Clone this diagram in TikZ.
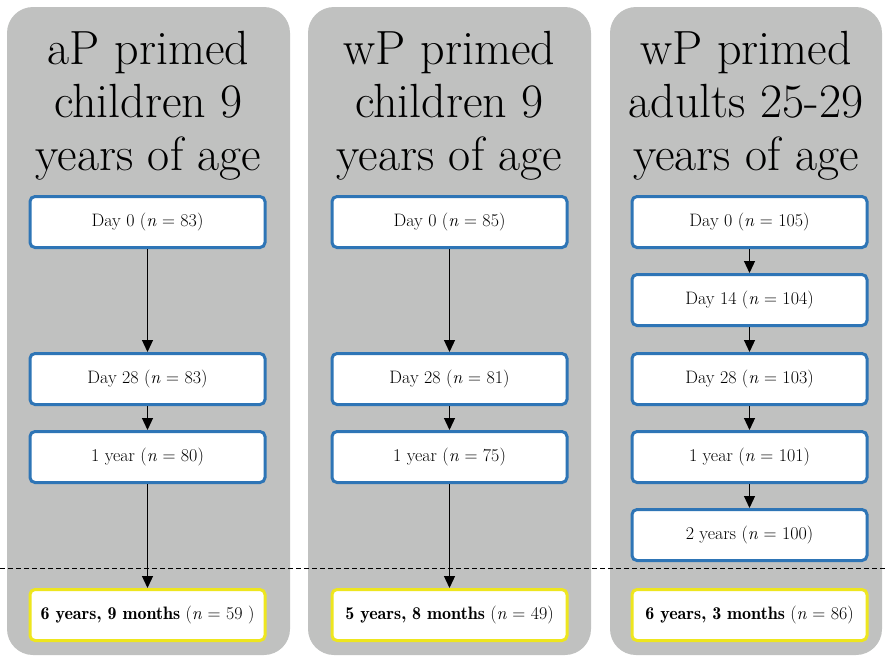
\documentclass[tikz,border=0pt]{standalone}
\usetikzlibrary{arrows.meta}
\definecolor{panelgray}{RGB}{192,193,192}
\definecolor{stageblue}{RGB}{46,117,182}
\definecolor{finalyellow}{RGB}{238,230,30}
\newcommand{\yrs}[1]{{\fontseries{b}\selectfont #1}}
\begin{document}
\begin{tikzpicture}[
    x=1pt, y=-1pt,
    panel/.style={fill=panelgray, rounded corners=26pt},
    title/.style={align=center, inner sep=0pt, anchor=north, font=\fontsize{48}{53}\selectfont},
    stage/.style={draw=stageblue, line width=3pt, fill=white, rounded corners=5pt,
        minimum width=235pt, minimum height=51pt, font=\fontsize{18}{22}\selectfont},
    final/.style={stage, draw=finalyellow},
    flow/.style={draw, line width=1.2pt, -{Triangle[width=11pt, length=12pt]}},
    split_line/.style={draw, dashed, line width=1pt, dash pattern=on 5pt off 3pt}
]
    % Frame
    \useasboundingbox (0,0) rectangle (885,657);

    % Column centres
    \def\colA{147.5}
    \def\colB{449.5}
    \def\colC{749.5}

    % Panels
    \fill[panel] (7,7) rectangle (290,655);
    \fill[panel] (308,7) rectangle (591,655);
    \fill[panel] (610,7) rectangle (882,655);

    % Titles
    \node[title] (titleA) at (148.5,31) {aP primed\\children 9\\years of age};
    \node[title] (titleB) at (449.5,31) {wP primed\\children 9\\years of age};
    \node[title] (titleC) at (746,31) {wP primed\\adults 25-29\\years of age};

    % aP children
    \node[stage] (a0) at (\colA,222) {Day 0 (\textit{n} = 83)};
    \node[stage] (a28) at (\colA,379) {Day 28 (\textit{n} = 83)};
    \node[stage] (a1y) at (\colA,457) {1 year (\textit{n} = 80)};
    \node[final] (afin) at (\colA,615) {\yrs{6 years, 9 months} (\textit{n} = 59 )};
    \draw[flow] (a0) -- (a28);
    \draw[flow] (a28) -- (a1y);
    \draw[flow] (a1y) -- (afin);

    % wP children
    \node[stage] (b0) at (\colB,222) {Day 0 (\textit{n} = 85)};
    \node[stage] (b28) at (\colB,379) {Day 28 (\textit{n} = 81)};
    \node[stage] (b1y) at (\colB,457) {1 year (\textit{n} = 75)};
    \node[final] (bfin) at (\colB,615) {\yrs{5 years, 8 months} (\textit{n} = 49)};
    \draw[flow] (b0) -- (b28);
    \draw[flow] (b28) -- (b1y);
    \draw[flow] (b1y) -- (bfin);

    % wP adults
    \node[stage] (c0) at (\colC,222) {Day 0 (\textit{n} = 105)};
    \node[stage] (c14) at (\colC,300) {Day 14 (\textit{n} = 104)};
    \node[stage] (c28) at (\colC,379) {Day 28 (\textit{n} = 103)};
    \node[stage] (c1y) at (\colC,457) {1 year (\textit{n} = 101)};
    \node[stage] (c2y) at (\colC,535) {2 years (\textit{n} = 100)};
    \node[final] (cfin) at (\colC,615) {\yrs{6 years, 3 months} (\textit{n} = 86)};
    \draw[flow] (c0) -- (c14);
    \draw[flow] (c14) -- (c28);
    \draw[flow] (c28) -- (c1y);
    \draw[flow] (c1y) -- (c2y);

    % Dashed split
    \coordinate (splitL) at (0,568);
    \coordinate (splitR) at (885,568);
    \draw[split_line] (splitL) -- (splitR);
\end{tikzpicture}
\end{document}
